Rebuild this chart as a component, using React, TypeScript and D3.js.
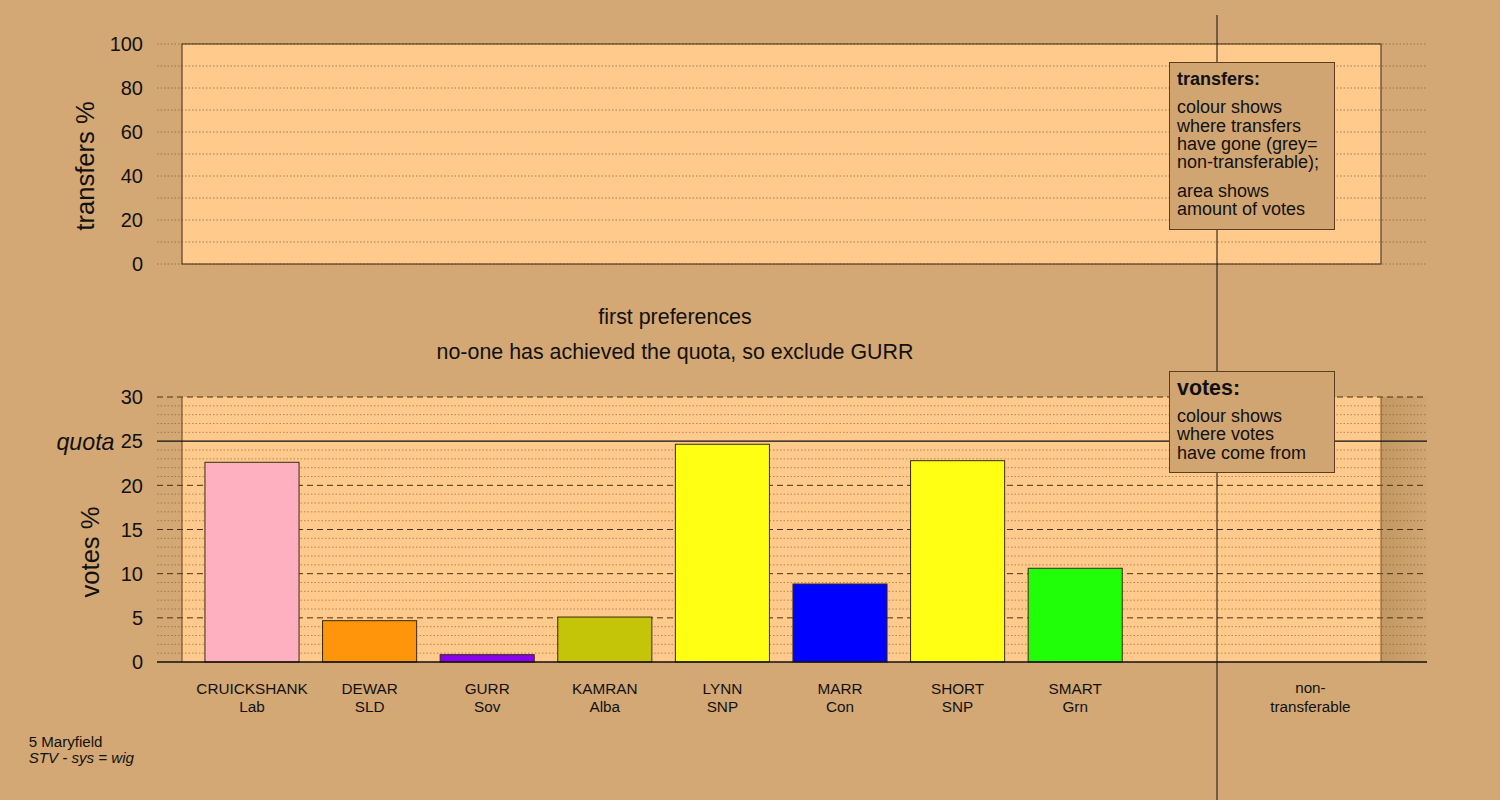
import React from "react";
import * as d3 from "d3";

const candidates = ["CRUICKSHANK", "DEWAR", "GURR", "KAMRAN", "LYNN", "MARR", "SHORT", "SMART"];
const parties = ["Lab", "SLD", "Sov", "Alba", "SNP", "Con", "SNP", "Grn"];
const votes = [22.61, 4.68, 0.83, 5.09, 24.65, 8.83, 22.79, 10.61];
const colours = ["#FFB0C0", "#FF950A", "#8A00EE", "#C4C408", "#FFFF14", "#0000FF", "#FFFF14", "#20FF08"];
const quota = 25;
const transferTicks = [0, 20, 40, 60, 80, 100];
const transferGrid = [0, 10, 20, 30, 40, 50, 60, 70, 80, 90, 100];
const voteTicks = [0, 5, 10, 15, 20, 25, 30];
const voteMinor = d3.range(0, 31, 1);
const slots = [...candidates, "", "non-transferable"];

const BG = "#D4A874";
const PANEL = "#FFCA8C";
const GRID = "#7a5528";
const FONT = "'Liberation Sans', Arial, sans-serif";

export default function App() {
  const yTop = d3.scaleLinear().domain([0, 100]).range([264, 44]);
  const yBot = d3.scaleLinear().domain([0, 30]).range([662, 397]);
  const x = d3.scaleBand<string>().domain(slots).range([193.2, 1369.2]).paddingInner(0.2).paddingOuter(0.1);
  const gx0 = 157, gx1 = 1427, px0 = 182, px1 = 1381;
  const vx = 1217;

  return (
    <svg width={1500} height={800} style={{ position: "absolute", left: 0, top: 0, display: "block" }} fontFamily={FONT}>
      <defs>
        <linearGradient id="shade" x1="0" x2="1" y1="0" y2="0">
          <stop offset="0" stopColor="#a07840" stopOpacity={0.35} />
          <stop offset="1" stopColor="#a07840" stopOpacity={0.05} />
        </linearGradient>
      </defs>
      <rect x={0} y={0} width={1500} height={800} fill={BG} />

      {/* upper panel */}
      <rect x={px0} y={yTop(100)} width={px1 - px0} height={yTop(0) - yTop(100)} fill={PANEL} />
      {transferGrid.map((v) => (
        <line key={"tg" + v} x1={gx0} x2={gx1} y1={yTop(v)} y2={yTop(v)} stroke={GRID} strokeWidth={0.8} strokeDasharray="1.5,2" opacity={0.8} />
      ))}
      <rect x={px0} y={yTop(100)} width={px1 - px0} height={yTop(0) - yTop(100)} fill="none" stroke="#3a2a10" strokeWidth={1} />
      {transferTicks.map((v) => (
        <text key={"tt" + v} x={143} y={yTop(v)} dy="0.36em" textAnchor="end" fontSize={20} fill="#111">{v}</text>
      ))}
      <text transform="translate(94,166) rotate(-90)" textAnchor="middle" fontSize={25.6} fill="#111">transfers %</text>

      {/* titles */}
      <text x={675} y={323.5} textAnchor="middle" fontSize={21.4} fill="#111">first preferences</text>
      <text x={675} y={359} textAnchor="middle" fontSize={21.4} fill="#111">no-one has achieved the quota, so exclude GURR</text>

      {/* lower panel */}
      <rect x={px0} y={yBot(30)} width={px1 - px0} height={yBot(0) - yBot(30)} fill={PANEL} />
      <rect x={px1} y={yBot(30)} width={gx1 - px1} height={yBot(0) - yBot(30)} fill="url(#shade)" />
      {voteMinor.filter((v) => v % 5 !== 0).map((v) => (
        <line key={"vm" + v} x1={gx0} x2={gx1} y1={yBot(v)} y2={yBot(v)} stroke={GRID} strokeWidth={0.8} strokeDasharray="1.5,2" opacity={0.7} />
      ))}
      {voteTicks.filter((v) => v !== 0 && v !== quota).map((v) => (
        <line key={"vM" + v} x1={gx0} x2={gx1} y1={yBot(v)} y2={yBot(v)} stroke="#4a3010" strokeWidth={1} strokeDasharray="6,4" />
      ))}
      <line x1={px0} x2={px0} y1={yBot(30)} y2={yBot(0)} stroke="#5a4020" strokeWidth={1} />
      <line x1={px1} x2={px1} y1={yBot(30)} y2={yBot(0)} stroke="#7a5a30" strokeWidth={1} />
      <line x1={gx0} x2={gx1} y1={yBot(quota)} y2={yBot(quota)} stroke="#111" strokeWidth={1.3} />

      {candidates.map((c, i) => (
        <rect key={"b" + c} x={x(c)!} y={yBot(votes[i])} width={x.bandwidth()} height={yBot(0) - yBot(votes[i])} fill={colours[i]} stroke="#3a2a10" strokeWidth={1} />
      ))}
      <line x1={gx0} x2={gx1} y1={yBot(0)} y2={yBot(0)} stroke="#111" strokeWidth={1.5} />

      {voteTicks.map((v) => (
        <text key={"vt" + v} x={143} y={yBot(v)} dy="0.36em" textAnchor="end" fontSize={20} fill="#111">{v}</text>
      ))}
      <text x={114.5} y={yBot(quota)} dy="0.36em" textAnchor="end" fontSize={23.2} fontStyle="italic" fill="#111">quota</text>
      <text transform="translate(99,552) rotate(-90)" textAnchor="middle" fontSize={25.6} fill="#111">votes %</text>

      {candidates.map((c, i) => (
        <g key={"l" + c}>
          <text x={x(c)! + x.bandwidth() / 2} y={694.3} textAnchor="middle" fontSize={15.3} fill="#111">{c}</text>
          <text x={x(c)! + x.bandwidth() / 2} y={712.3} textAnchor="middle" fontSize={15.3} fill="#111">{parties[i]}</text>
        </g>
      ))}
      <text x={x("non-transferable")! + x.bandwidth() / 2} y={693} textAnchor="middle" fontSize={15.2} fill="#111">non-</text>
      <text x={x("non-transferable")! + x.bandwidth() / 2} y={712} textAnchor="middle" fontSize={15.2} fill="#111">transferable</text>

      {/* vertical divider */}
      <line x1={vx} x2={vx} y1={15} y2={800} stroke="#111" strokeWidth={1} />

      {/* legend boxes */}
      <rect x={1169.5} y={62.5} width={165} height={167} fill="#D1A572" stroke="#5a4020" strokeWidth={1} />
      <text x={1177} y={85} fontSize={18} fontWeight="bold" fill="#111">transfers:</text>
      {["colour shows", "where transfers", "have gone (grey=", "non-transferable);"].map((t, i) => (
        <text key={"lt" + i} x={1177} y={113.3 + i * 18.2} fontSize={18} fill="#111">{t}</text>
      ))}
      {["area shows", "amount of votes"].map((t, i) => (
        <text key={"la" + i} x={1177} y={196.7 + i * 18.3} fontSize={18} fill="#111">{t}</text>
      ))}

      <rect x={1169.5} y={371.5} width={165} height={101} fill="#D1A572" stroke="#5a4020" strokeWidth={1} />
      <text x={1177} y={395} fontSize={21.4} fontWeight="bold" fill="#111">votes:</text>
      {["colour shows", "where votes", "have come from"].map((t, i) => (
        <text key={"lv" + i} x={1177} y={421.7 + i * 18.6} fontSize={18} fill="#111">{t}</text>
      ))}

      {/* footnote */}
      <text x={28.7} y={746.7} fontSize={15.1} fill="#111">5 Maryfield</text>
      <text x={28.7} y={763.3} fontSize={15.1} fontStyle="italic" fill="#111">STV - sys = wig</text>
    </svg>
  );
}
